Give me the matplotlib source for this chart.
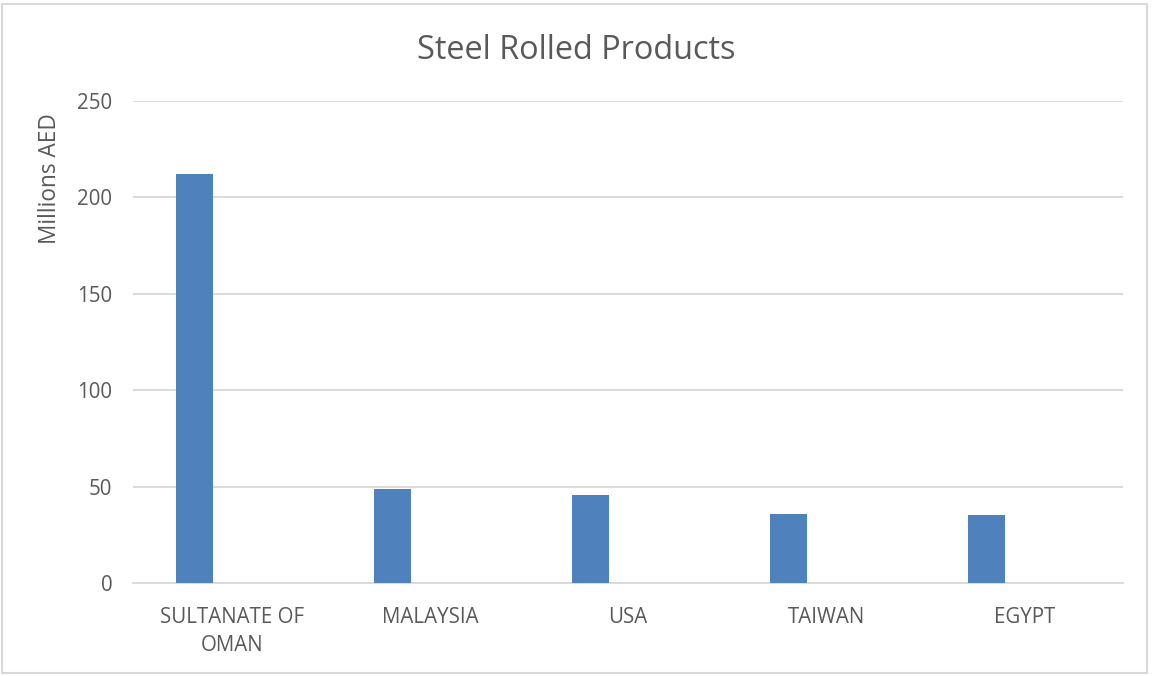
import matplotlib.pyplot as plt
from matplotlib.patches import Rectangle
import numpy as np

countries = ['SULTANATE OF\nOMAN', 'MALAYSIA', 'USA', 'TAIWAN', 'EGYPT']
values = [212.2, 48.8, 45.7, 35.9, 35.4]
yticks = [0, 50, 100, 150, 200, 250]

plt.rcParams['font.family'] = ['Open Sans', 'DejaVu Sans']
text_color = '#595959'
grid_color = '#d9d9d9'

fig = plt.figure(figsize=(11.52, 6.76), dpi=100)
ax = fig.add_axes([0.1155, 0.137, 0.8595, 0.7136])

x = np.arange(len(countries))
ax.bar(x - 0.19, values, width=0.19, color='#4f81bd', zorder=3)

ax.set_xlim(-0.5, len(countries) - 0.5)
ax.set_ylim(0, 250)
ax.set_yticks(yticks)
ax.set_xticks(x)
ax.set_xticklabels(countries, linespacing=1.45)
ax.yaxis.grid(True, color=grid_color, linewidth=1.3)
ax.set_axisbelow(True)

for s in ['top', 'right', 'left']:
    ax.spines[s].set_visible(False)
ax.spines['bottom'].set_color(grid_color)
ax.spines['bottom'].set_linewidth(1.3)

ax.tick_params(axis='both', length=0, labelsize=14.8, colors=text_color)
ax.tick_params(axis='x', pad=17)
ax.tick_params(axis='y', pad=15)

ax.set_ylabel('Millions AED', fontsize=16.3, color=text_color)
ax.yaxis.set_label_coords(-0.072, 0.839)

fig.text(0.5, 0.926, 'Steel Rolled Products', ha='center', va='center',
         fontsize=23.4, color=text_color)

# light frame round the whole chart
fig.patches.append(Rectangle((0.002, 0.004), 0.994, 0.99, transform=fig.transFigure,
                             fill=False, edgecolor=grid_color, linewidth=1.5))

fig.savefig('out.png', dpi=100)
